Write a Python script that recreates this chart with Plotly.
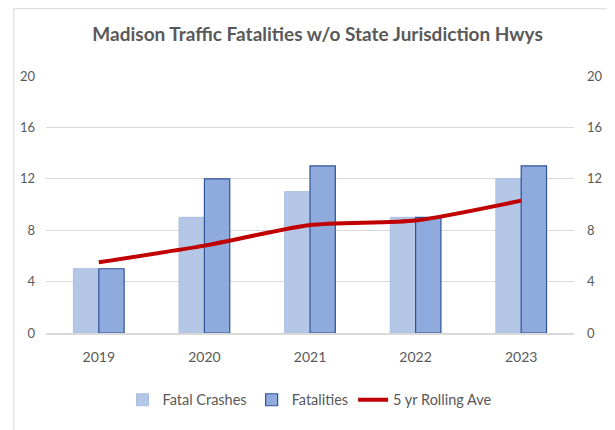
import plotly.graph_objects as go

# ── 데이터 ────────────────────────────────────────────────
years = ["2019", "2020", "2021", "2022", "2023"]
fatal_crashes = [5, 9, 11, 9, 12]
fatalities = [5, 12, 13, 9, 13]
rolling_ave = [5.5, 6.8, 8.4, 8.75, 10.3]
y_ticks = [0, 4, 8, 12, 16, 20]

FONT = "Lato, Open Sans, Noto Sans, sans-serif"
TXT = "#595959"

fig = go.Figure()
fig.add_trace(go.Bar(
    name="Fatal Crashes", x=years, y=fatal_crashes,
    marker=dict(color="#B4C7E7", line=dict(color="#A9BDE3", width=1)),
))
fig.add_trace(go.Bar(
    name="Fatalities", x=years, y=fatalities,
    marker=dict(color="#8FAADC", line=dict(color="#2F5597", width=1.2)),
))
fig.add_trace(go.Scatter(
    name="5 yr Rolling Ave", x=years, y=rolling_ave, yaxis="y2",
    mode="lines", line=dict(color="#C00000", width=4, shape="spline", smoothing=0.6),
))

# 바깥 테두리 (차트 영역)
fig.add_shape(type="rect", xref="paper", yref="paper",
              x0=-0.061, y0=-0.5, x1=1.2, y1=1.262,
              line=dict(color="#D9D9D9", width=1), layer="below")

axis_common = dict(range=[0, 20], tickvals=y_ticks, showline=False,
                   zeroline=False, ticks="", tickfont=dict(size=13, color=TXT, family=FONT))
fig.update_layout(
    title=dict(text="Madison Traffic Fatalities w/o State Jurisdiction Hwys",
               x=0.51, xanchor="center", y=0.937, yanchor="middle",
               font=dict(size=19, color=TXT, family=FONT, weight="bold")),
    barmode="group", bargap=0.52, bargroupgap=0,
    xaxis=dict(showline=True, linecolor="#D9D9D9", linewidth=2, ticklabelstandoff=10,
               tickfont=dict(size=14, color=TXT, family=FONT), ticks=""),
    yaxis=dict(showgrid=True, gridcolor="#D9D9D9", gridwidth=1, ticklabelstandoff=10,
               **axis_common),
    yaxis2=dict(overlaying="y", side="right", showgrid=False, ticklabelstandoff=12,
                **axis_common),
    legend=dict(orientation="h", x=0.5, xanchor="center", y=-0.26, yanchor="middle",
                font=dict(size=14.5, color=TXT, family=FONT), itemwidth=30,
                traceorder="normal"),
    plot_bgcolor="white", paper_bgcolor="white",
    width=607, height=422,
    margin=dict(l=36, r=31, t=68, b=97),
)

fig.write_html("out.html")
